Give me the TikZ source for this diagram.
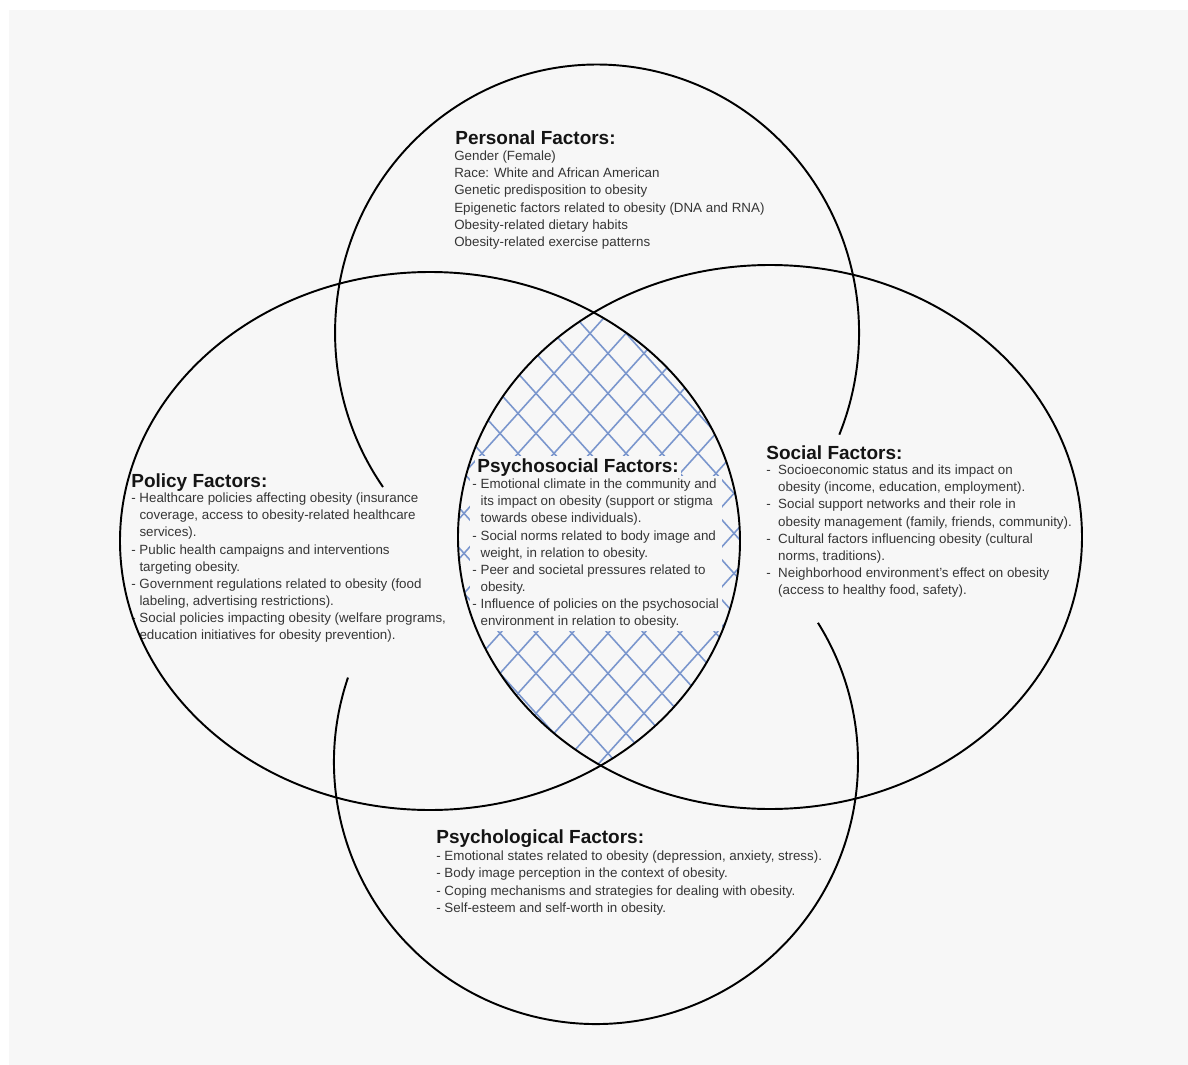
\documentclass[tikz,border=0pt]{standalone}
\usepackage{fontspec}
\setmainfont{Liberation Sans}
\usepackage{xcolor}
\usepackage{tikz}
\usetikzlibrary{positioning}
\definecolor{bgcol}{HTML}{F7F7F7}
\definecolor{inkcol}{HTML}{353535}
\definecolor{hatchcol}{RGB}{122,150,205}
\newcommand{\cont}{\hphantom{- }}
\newcommand{\contw}{\hphantom{-\ \ }}

\begin{document}
\begin{tikzpicture}[x=0.02cm,y=-0.02cm,
  ring/.style={line width=1.1pt,black},
  hatch/.style={line width=0.9pt,hatchcol},
  hd/.style={anchor=base west,inner sep=0pt,font=\bfseries\fontsize{10.8}{13}\selectfont,text=black!92},
  bd/.style={anchor=north west,inner sep=0pt,align=left,font=\fontsize{7.6}{9.75}\selectfont,text=inkcol},
  mask/.style={fill=bgcol,inner sep=1.5pt}]
  \useasboundingbox (0,0) rectangle (1188,1065);
  \fill[white] (0,0) rectangle (1188,1065);
  \fill[bgcol] (9,10) rectangle (1188,1065);
  \begin{scope}
    \clip (430,541) ellipse [x radius=310,y radius=269];
    \clip (770,537) ellipse [x radius=312,y radius=272];
    \foreach \k in {0,...,21}{
      \draw[hatch] ({20+36*\k},300) -- ({452+36*\k},780);
      \draw[hatch] ({440+36*\k},300) -- ({8+36*\k},780);
    }
  \end{scope}
  \node[hd] (perst) at (455,144) {Personal Factors:};
  \node[bd,below right=3.8pt and -0.6pt of perst.base west] (persb) {Gender (Female)\\
    Race: White and African American\\
    Genetic predisposition to obesity\\
    Epigenetic factors related to obesity (DNA and RNA)\\
    Obesity-related dietary habits\\
    Obesity-related exercise patterns};
  \node[hd] (polt) at (131,487) {Policy Factors:};
  \node[bd,below right=3.2pt and 0pt of polt.base west] (polb) {- Healthcare policies affecting obesity (insurance\\
    \cont coverage, access to obesity-related healthcare\\
    \cont services).\\
    - Public health campaigns and interventions\\
    \cont targeting obesity.\\
    - Government regulations related to obesity (food\\
    \cont labeling, advertising restrictions).\\
    - Social policies impacting obesity (welfare programs,\\
    \cont education initiatives for obesity prevention).};
  \node[hd,mask] (psyst) at (474.4,472) {Psychosocial Factors:};
  \node[bd,mask,below right=2.3pt and -2.8pt of psyst.base west] (psysb) {- Emotional climate in the community and\\
    \cont its impact on obesity (support or stigma\\
    \cont towards obese individuals).\\
    - Social norms related to body image and\\
    \cont weight, in relation to obesity.\\
    - Peer and societal pressures related to\\
    \cont obesity.\\
    - Influence of policies on the psychosocial\\
    \cont environment in relation to obesity.};
  \node[hd] (soct) at (766,459) {Social Factors:};
  \node[bd,below right=3.2pt and 0pt of soct.base west] (socb) {-\ \ Socioeconomic status and its impact on\\
    \contw obesity (income, education, employment).\\
    -\ \ Social support networks and their role in\\
    \contw obesity management (family, friends, community).\\
    -\ \ Cultural factors influencing obesity (cultural\\
    \contw norms, traditions).\\
    -\ \ Neighborhood environment's effect on obesity\\
    \contw (access to healthy food, safety).};
  \node[hd] (psylt) at (436,843) {Psychological Factors:};
  \node[bd,below right=4.4pt and 0pt of psylt.base west] (psylb) {- Emotional states related to obesity (depression, anxiety, stress).\\
    - Body image perception in the context of obesity.\\
    - Coping mechanisms and strategies for dealing with obesity.\\
    - Self-esteem and self-worth in obesity.};
  \draw[ring] (430,541) ellipse [x radius=310,y radius=269];
  \draw[ring] (770,537) ellipse [x radius=312,y radius=272];
  \draw[ring] (383,487) arc[start angle=144.8,end angle=382.4,x radius=262,y radius=268];
  \draw[ring] ([shift={(596,762)}]198.8:262) arc[start angle=198.8,end angle=-32.1,radius=262];
\end{tikzpicture}
\end{document}
